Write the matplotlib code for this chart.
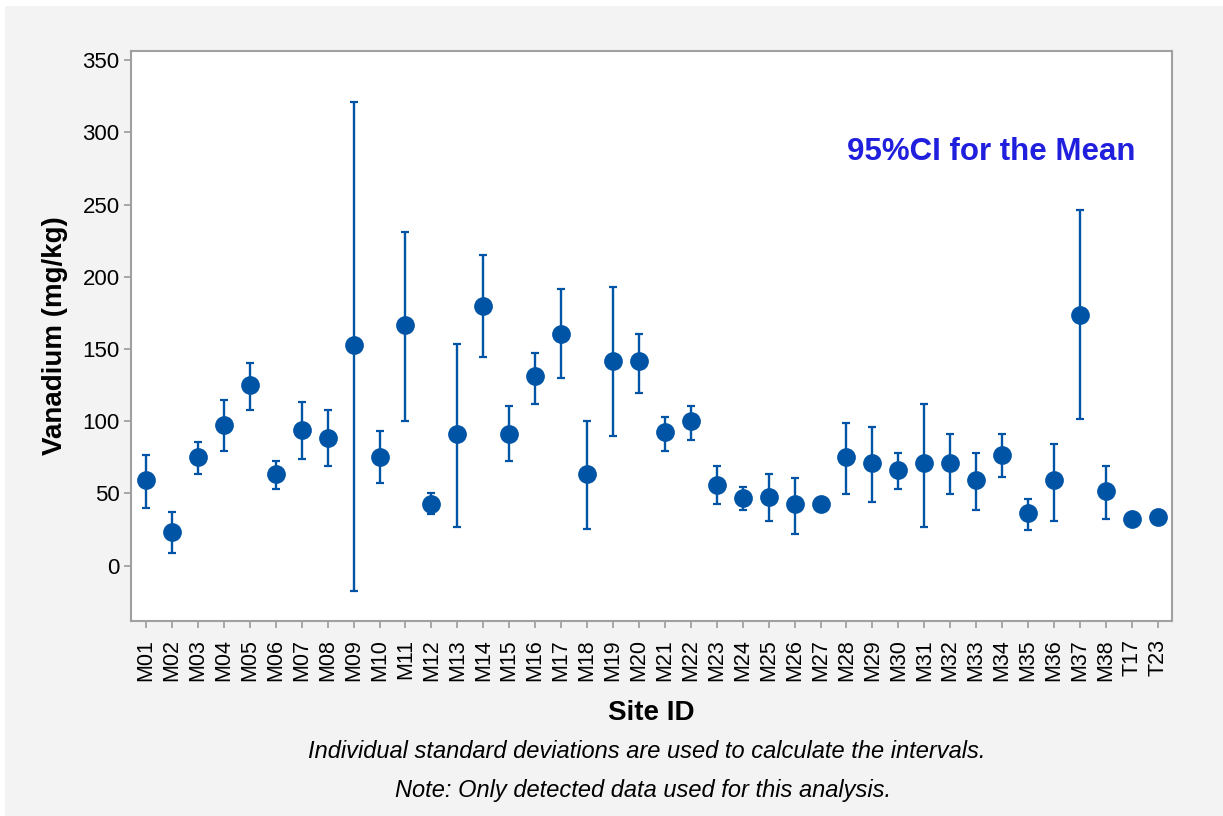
import numpy as np
import matplotlib
matplotlib.use('Agg')
import matplotlib.pyplot as plt
from matplotlib.patches import Rectangle

plt.rcParams['font.family'] = ['Liberation Sans', 'DejaVu Sans']

sites = ['M01', 'M02', 'M03', 'M04', 'M05', 'M06', 'M07', 'M08', 'M09', 'M10',
         'M11', 'M12', 'M13', 'M14', 'M15', 'M16', 'M17', 'M18', 'M19', 'M20',
         'M21', 'M22', 'M23', 'M24', 'M25', 'M26', 'M27', 'M28', 'M29', 'M30',
         'M31', 'M32', 'M33', 'M34', 'M35', 'M36', 'M37', 'M38', 'T17', 'T23']

means = [59.3, 23.5, 75.0, 97.2, 125.3, 63.3, 94.2, 88.4, 152.8, 75.3,
         166.5, 42.7, 91.4, 179.8, 91.4, 131.2, 160.7, 63.3, 141.5, 141.5,
         92.8, 100.4, 56.1, 47.1, 47.4, 42.7, 42.7, 75.3, 70.9, 66.3,
         70.9, 70.9, 59.1, 76.7, 36.7, 59.1, 173.8, 51.7, 32.5, 33.9]

upper = [76.7, 37.0, 85.7, 115.0, 140.2, 72.3, 113.6, 107.6, 321.1, 93.1,
         231.3, 50.1, 153.3, 215.2, 110.8, 147.3, 191.6, 100.2, 193.0, 160.5,
         103.2, 110.8, 69.3, 54.5, 63.3, 60.5, np.nan, 98.8, 95.8, 78.3,
         112.0, 91.4, 78.3, 91.4, 46.0, 84.1, 246.1, 69.3, np.nan, np.nan]

lower = [39.7, 9.0, 63.3, 79.6, 107.6, 52.9, 73.7, 69.3, -17.5, 57.5,
         100.2, 35.8, 26.6, 144.3, 72.3, 112.0, 129.8, 25.2, 90.0, 119.4,
         79.6, 87.0, 42.7, 38.4, 31.0, 22.0, np.nan, 49.9, 44.1, 53.1,
         26.6, 49.9, 38.4, 61.6, 24.9, 31.0, 101.6, 32.5, np.nan, np.nan]

yticks = [0, 50, 100, 150, 200, 250, 300, 350]

blue = '#0054a6'
grey = '#a0a0a0'

fig = plt.figure(figsize=(12.23, 8.16), dpi=100)
fig.patch.set_facecolor('white')
fig.patches.append(Rectangle((5 / 1223, 0), 1 - 5 / 1223, 1 - 6 / 816,
                             transform=fig.transFigure, facecolor='#f3f3f3',
                             edgecolor='none', zorder=-10))

ax = fig.add_axes([0.1069, 0.239, 0.9583 - 0.1069, 0.9379 - 0.239])
ax.set_facecolor('white')

x = np.arange(len(sites))
means_a = np.array(means)
upper_a = np.array(upper)
lower_a = np.array(lower)
has_ci = ~np.isnan(upper_a)

ax.errorbar(x[has_ci], means_a[has_ci],
            yerr=[means_a[has_ci] - lower_a[has_ci], upper_a[has_ci] - means_a[has_ci]],
            fmt='none', ecolor=blue, elinewidth=1.7, capsize=2.6, capthick=1.6, zorder=2)
ax.plot(x, means_a, 'o', color=blue, markersize=13.5, markeredgewidth=0, zorder=3)

ax.set_xlim(-0.59, 39.55)
ax.set_ylim(-38.3, 356.6)
ax.set_xticks(x)
ax.set_xticklabels(sites, rotation=90, fontsize=15.5)
ax.set_yticks(yticks)
ax.set_yticklabels([str(t) for t in yticks], fontsize=16)

for s in ax.spines.values():
    s.set_color(grey)
    s.set_linewidth(1.5)
ax.tick_params(axis='both', direction='out', length=5, width=1.3, color=grey,
               labelcolor='black')
ax.tick_params(axis='x', pad=8)
ax.tick_params(axis='y', pad=3)

ax.set_xlabel('Site ID', fontsize=20, fontweight='bold', labelpad=14)
ax.set_ylabel('Vanadium (mg/kg)', fontsize=20, fontweight='bold', labelpad=10)

ax.text(0.8267, 0.822, '95%CI for the Mean', transform=ax.transAxes, ha='center',
        va='center', fontsize=22.5, fontweight='bold', color='#1f1fdd')

fig.text(647 / 1223, 1 - 752 / 816,
         'Individual standard deviations are used to calculate the intervals.',
         ha='center', va='center', fontsize=17, style='italic')
fig.text(643 / 1223, 1 - 790 / 816,
         'Note: Only detected data used for this analysis.',
         ha='center', va='center', fontsize=17, style='italic')

fig.savefig('out.png', dpi=100, facecolor=fig.get_facecolor())
